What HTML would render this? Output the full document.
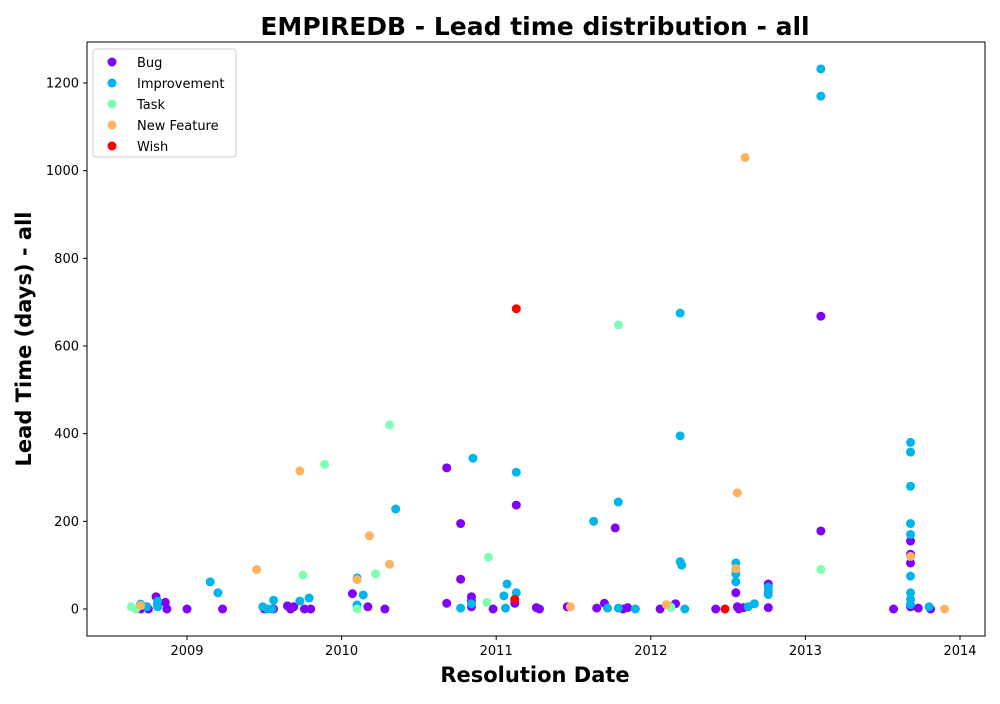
<!DOCTYPE html>
<html><head><meta charset="utf-8"><style>
body{margin:0;background:#fff;font-family:"DejaVu Sans","Liberation Sans",sans-serif}
</style></head><body>
<svg id="chart" width="1000" height="700" xmlns="http://www.w3.org/2000/svg" font-family="DejaVu Sans, Liberation Sans, sans-serif">
<rect width="1000" height="700" fill="#fff"/>
<text x="535" y="35" text-anchor="middle" font-size="25" font-weight="bold">EMPIREDB - Lead time distribution - all</text>
<g id="marks"></g>
<rect x="87" y="42" width="898" height="594" fill="none" stroke="#000" stroke-width="1"/>
<g id="axes"></g>
<text x="535" y="682" text-anchor="middle" font-size="21" font-weight="bold">Resolution Date</text>
<text transform="translate(31,339) rotate(-90)" text-anchor="middle" font-size="21" font-weight="bold">Lead Time (days) - all</text>
<g id="legend"></g>
</svg>
<script>
const bugX=[2008.7,2008.74,2008.75,2008.8,2008.81,2008.86,2008.87,2009.0,2009.23,2009.5,2009.56,2009.65,2009.67,2009.69,2009.76,2009.8,2010.07,2010.17,2010.28,2010.68,2010.68,2010.77,2010.77,2010.84,2010.84,2010.84,2010.98,2011.13,2011.12,2011.26,2011.28,2011.46,2011.65,2011.7,2011.77,2011.82,2011.85,2012.06,2012.16,2012.42,2012.55,2012.56,2012.57,2012.6,2012.76,2012.76,2013.1,2013.1,2013.57,2013.68,2013.68,2013.68,2013.68,2013.73,2013.81];
const bugY=[0,5,0,28,12,15,0,0,0,0,0,7,0,5,0,0,35,5,0,322,13,195,68,28,18,5,0,237,13,3,0,5,2,13,185,0,3,0,12,0,37,5,0,3,57,3,668,178,0,155,105,125,5,2,0];
const impX=[2008.7,2008.74,2008.81,2008.81,2009.15,2009.2,2009.49,2009.52,2009.55,2009.56,2009.73,2009.79,2010.1,2010.1,2010.14,2010.35,2010.85,2011.13,2011.07,2011.05,2011.13,2011.06,2010.84,2010.77,2011.63,2011.79,2011.79,2011.72,2011.9,2012.19,2012.19,2012.19,2012.2,2012.22,2012.13,2012.55,2012.55,2012.55,2012.55,2012.63,2012.67,2012.76,2012.76,2012.76,2013.1,2013.1,2013.68,2013.68,2013.68,2013.68,2013.68,2013.68,2013.68,2013.68,2013.68,2013.8];
const impY=[11,5,18,5,62,37,5,0,0,20,18,25,9,71,32,228,344,312,57,30,37,2,12,2,200,244,2,2,0,675,395,108,100,0,5,105,92,80,62,5,12,50,40,33,1232,1170,380,358,280,195,170,75,37,22,10,5];
const taskX=[2008.64,2008.67,2009.75,2009.89,2010.1,2010.22,2010.31,2010.95,2010.94,2011.79,2012.13,2013.1];
const taskY=[5,0,77,330,0,80,420,118,15,648,3,90];
const nfX=[2008.7,2009.45,2009.73,2010.1,2010.18,2010.31,2011.48,2012.1,2012.55,2012.56,2012.61,2013.68,2013.9];
const nfY=[8,90,315,67,167,102,5,10,92,265,1030,120,0];
const wishX=[2011.13,2011.12,2012.48];
const wishY=[685,22,0];
const xTicks=[2009,2010,2011,2012,2013,2014];
const yTicks=[0,200,400,600,800,1000,1200];
const seriesNames=["Bug","Improvement","Task","New Feature","Wish"];
const seriesColors=["#8000ff","#00b5eb","#80ffb4","#ffb360","#ff0000"];

const NS="http://www.w3.org/2000/svg";
function xs(v){return 187+(v-2009)*154.6;}
function ys(v){return 609-v*(526/1200);}
const marks=document.getElementById('marks');
const all=[[bugX,bugY],[impX,impY],[taskX,taskY],[nfX,nfY],[wishX,wishY]];
all.forEach((s,si)=>{
  s[0].forEach((xv,i)=>{
    const c=document.createElementNS(NS,'circle');
    c.setAttribute('cx',xs(xv));c.setAttribute('cy',ys(s[1][i]));c.setAttribute('r',4.5);
    c.setAttribute('fill',seriesColors[si]);
    
    
    marks.appendChild(c);
  });
});
const axes=document.getElementById('axes');
xTicks.forEach(t=>{
  const l=document.createElementNS(NS,'line');
  l.setAttribute('x1',xs(t));l.setAttribute('x2',xs(t));l.setAttribute('y1',636);l.setAttribute('y2',640);l.setAttribute('stroke','#000');
  
  
  axes.appendChild(l);
  const tx=document.createElementNS(NS,'text');
  tx.setAttribute('x',xs(t));tx.setAttribute('y',655);tx.setAttribute('text-anchor','middle');tx.setAttribute('font-size','13');
  tx.textContent=t;
  
  
  axes.appendChild(tx);
});
yTicks.forEach(t=>{
  const l=document.createElementNS(NS,'line');
  l.setAttribute('x1',83);l.setAttribute('x2',87);l.setAttribute('y1',ys(t));l.setAttribute('y2',ys(t));l.setAttribute('stroke','#000');
  
  
  axes.appendChild(l);
  const tx=document.createElementNS(NS,'text');
  tx.setAttribute('x',79);tx.setAttribute('y',ys(t)+4.5);tx.setAttribute('text-anchor','end');tx.setAttribute('font-size','13');
  tx.textContent=t;
  
  
  axes.appendChild(tx);
});
const lg=document.getElementById('legend');
const box=document.createElementNS(NS,'rect');
box.setAttribute('x',93);box.setAttribute('y',49);box.setAttribute('width',143);box.setAttribute('height',108);box.setAttribute('rx',3);
box.setAttribute('fill','#fff');box.setAttribute('fill-opacity','0.8');box.setAttribute('stroke','#ccc');


lg.appendChild(box);
seriesNames.forEach((n,i)=>{
  const y=62+i*21;
  const c=document.createElementNS(NS,'circle');
  c.setAttribute('cx',112);c.setAttribute('cy',y);c.setAttribute('r',4.5);c.setAttribute('fill',seriesColors[i]);
  
  
  lg.appendChild(c);
  const t=document.createElementNS(NS,'text');
  t.setAttribute('x',137);t.setAttribute('y',y+5);t.setAttribute('font-size','13');t.textContent=n;
  
  
  lg.appendChild(t);
});
</script>
</body></html>
